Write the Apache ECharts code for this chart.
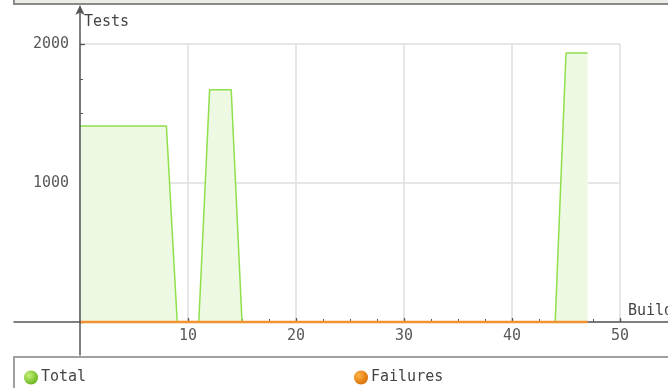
<!DOCTYPE html>
<html>
<head>
<meta charset="utf-8">
<style>
  html, body { margin: 0; padding: 0; background: #ffffff; }
  #chart { width: 668px; height: 388px; }
</style>
<script src="https://cdn.jsdelivr.net/npm/echarts@6/dist/echarts.min.js"></script>
</head>
<body>
<div id="chart"></div>
<script>
// Build numbers on the horizontal axis
const builds = [0, 1, 2, 3, 4, 5, 6, 7, 8, 9, 10, 11, 12, 13, 14, 15, 16, 17, 18, 19,
  20, 21, 22, 23, 24, 25, 26, 27, 28, 29, 30, 31, 32, 33, 34, 35, 36, 37, 38, 39,
  40, 41, 42, 43, 44, 45, 46, 47];

// Total test count per build
const totalTests = [1410, 1410, 1410, 1410, 1410, 1410, 1410, 1410, 1410, 0, 0, 0,
  1670, 1670, 1670, 0, 0, 0, 0, 0, 0, 0, 0, 0, 0, 0, 0, 0, 0, 0, 0, 0, 0, 0, 0, 0,
  0, 0, 0, 0, 0, 0, 0, 0, 0, 1935, 1935, 1935];

// Failed test count per build
const failures = [0, 0, 0, 0, 0, 0, 0, 0, 0, 0, 0, 0, 0, 0, 0, 0, 0, 0, 0, 0, 0, 0,
  0, 0, 0, 0, 0, 0, 0, 0, 0, 0, 0, 0, 0, 0, 0, 0, 0, 0, 0, 0, 0, 0, 0, 0, 0, 0];

const xTicks = [0, 10, 20, 30, 40, 50];
const yTicks = [0, 1000, 2000];

const FONT = 'DejaVu Sans Mono';
const AXIS_COLOR = '#555555';
const LABEL_COLOR = '#5a5a5a';

const chart = echarts.init(document.getElementById('chart'), null, { renderer: 'canvas' });

function ball(inner, outer) {
  return new echarts.graphic.RadialGradient(0.35, 0.35, 0.75, [
    { offset: 0, color: inner },
    { offset: 1, color: outer }
  ]);
}

const totalPoints = builds.map((b, i) => [b, totalTests[i]]);
const failurePoints = builds.map((b, i) => [b, failures[i]]);

const option = {
  animation: false,
  backgroundColor: '#ffffff',
  textStyle: { fontFamily: FONT },
  grid: [
    // plot area
    { left: 80, right: 48, top: 44, bottom: 66, outerBoundsMode: 'none', containLabel: false },
    // long horizontal axis line
    { left: 14, right: 0, top: 44, bottom: 66, outerBoundsMode: 'none', containLabel: false },
    // long vertical axis line with arrow
    { left: 80, right: 48, top: 9, bottom: 33, outerBoundsMode: 'none', containLabel: false }
  ],
  xAxis: [
    {
      gridIndex: 0, type: 'value',
      min: xTicks[0], max: xTicks[xTicks.length - 1], interval: 10,
      name: 'Builds', nameLocation: 'end', nameGap: 8,
      nameTextStyle: { color: '#444', fontSize: 15, fontFamily: FONT, align: 'left', verticalAlign: 'bottom', padding: [0, 0, 3, 0] },
      axisLine: { show: false },
      axisTick: { show: true, inside: true, length: 4, lineStyle: { color: AXIS_COLOR, width: 1.2 } },
      minorTick: { show: true, splitNumber: 4, length: 3, lineStyle: { color: AXIS_COLOR, width: 1 } },
      axisLabel: { show: true, color: LABEL_COLOR, fontSize: 15, fontFamily: FONT, margin: 7,
        formatter: v => (v === 0 ? '' : String(v)) },
      splitLine: { show: true, lineStyle: { color: '#dedede', width: 1.5 } }
    },
    {
      gridIndex: 0, type: 'value',
      min: xTicks[0], max: xTicks[xTicks.length - 1], interval: 10,
      axisLine: { show: false },
      axisTick: { show: true, inside: false, length: 3, lineStyle: { color: AXIS_COLOR, width: 1.2 } },
      axisLabel: { show: false },
      splitLine: { show: false }
    },
    {
      gridIndex: 1, type: 'value', min: 0, max: 1, z: 3,
      axisLine: { show: true, lineStyle: { color: AXIS_COLOR, width: 1.5 } },
      axisTick: { show: false }, axisLabel: { show: false }, splitLine: { show: false }
    },
    {
      gridIndex: 2, type: 'value', min: 0, max: 1, show: false
    }
  ],
  yAxis: [
    {
      gridIndex: 0, type: 'value',
      min: yTicks[0], max: yTicks[yTicks.length - 1], interval: 1000,
      name: 'Tests', nameLocation: 'end', nameGap: 22,
      nameTextStyle: { color: '#444', fontSize: 15, fontFamily: FONT, align: 'left', verticalAlign: 'middle', padding: [0, 0, 0, 4] },
      axisLine: { show: false },
      axisTick: { show: true, inside: true, length: 3, lineStyle: { color: AXIS_COLOR, width: 1.2 } },
      minorTick: { show: true, splitNumber: 4, length: 3, lineStyle: { color: AXIS_COLOR, width: 1 } },
      axisLabel: { show: true, color: LABEL_COLOR, fontSize: 15, fontFamily: FONT, margin: 11,
        formatter: v => (v === 0 ? '' : String(v)) },
      splitLine: { show: true, lineStyle: { color: '#dedede', width: 1.5 } }
    },
    {
      gridIndex: 0, type: 'value',
      min: yTicks[0], max: yTicks[yTicks.length - 1], interval: 1000,
      axisLine: { show: false },
      axisTick: { show: true, inside: false, length: 5, lineStyle: { color: AXIS_COLOR, width: 1.2 } },
      axisLabel: { show: false },
      splitLine: { show: false }
    },
    {
      gridIndex: 1, type: 'value', min: 0, max: 1, show: false
    },
    {
      gridIndex: 2, type: 'value', min: 0, max: 1, z: 6,
      axisLine: { show: true, symbol: ['none', 'arrow'], symbolSize: [7, 10], symbolOffset: [0, 4],
        lineStyle: { color: AXIS_COLOR, width: 1.5 } },
      axisTick: { show: false }, axisLabel: { show: false }, splitLine: { show: false }
    }
  ],
  legend: [
    {
      left: 19, top: 365, itemWidth: 14, itemHeight: 14, itemGap: 0,
      textStyle: { color: '#444', fontSize: 15, fontFamily: FONT, padding: [0, 0, 0, -2] },
      data: [{ name: 'Total', icon: 'circle', itemStyle: { color: ball('#c4f27a', '#5fae14') } }]
    },
    {
      left: 349, top: 365, itemWidth: 14, itemHeight: 14, itemGap: 0,
      textStyle: { color: '#444', fontSize: 15, fontFamily: FONT, padding: [0, 0, 0, -2] },
      data: [{ name: 'Failures', icon: 'circle', itemStyle: { color: ball('#ffb347', '#d66a00') } }]
    }
  ],
  graphic: [
    {
      type: 'rect', z: -1, silent: true,
      shape: { x: 14, y: -10, width: 680, height: 14 },
      style: { fill: '#ebebe8', stroke: '#8a8a88', lineWidth: 2 }
    },
    {
      type: 'rect', z: -1, silent: true,
      shape: { x: 14, y: 357, width: 680, height: 50 },
      style: { fill: '#ffffff', stroke: '#a0a0a0', lineWidth: 2 }
    }
  ],
  series: [
    {
      name: 'Total', type: 'line', xAxisIndex: 0, yAxisIndex: 0,
      data: totalPoints, symbol: 'none', clip: false, z: 2,
      lineStyle: { color: '#8fe04a', width: 1.5 },
      itemStyle: { color: '#8fe04a' },
      areaStyle: { color: '#eef9e4', opacity: 1 }
    },
    {
      name: 'Failures', type: 'line', xAxisIndex: 0, yAxisIndex: 0,
      data: failurePoints, symbol: 'none', clip: false, z: 4,
      lineStyle: { color: '#f29230', width: 2.5 },
      itemStyle: { color: '#f29230' }
    }
  ]
};

chart.setOption(option);
</script>
</body>
</html>
